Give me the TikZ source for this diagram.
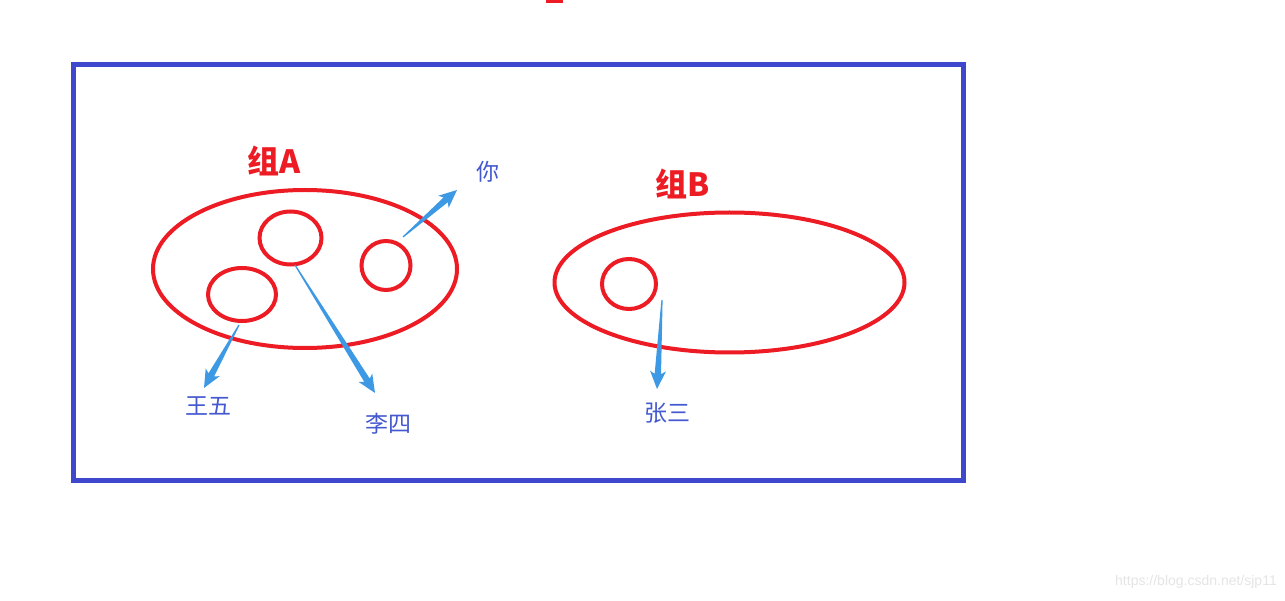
\documentclass[tikz,border=0pt]{standalone}
\usepackage{fontspec}
\usetikzlibrary{calc,shapes.geometric}
\newfontfamily\cjk{Noto Sans CJK SC}
\newfontfamily\wmfont{Liberation Sans}
\definecolor{gred}{HTML}{ED1C24}
\definecolor{frameblue}{HTML}{3F48CC}
\definecolor{txtblue}{HTML}{4458D0}
\definecolor{arrblue}{HTML}{3D99E4}
\newcommand\taperarrow[2]{%
  \coordinate (#1h) at ($(#2)!15pt!(#1)$);
  \coordinate (#1w) at ($(#2)!18pt!(#1)$);
  \fill[arrblue] ($(#1)!0.6pt!90:(#2)$) -- ($(#1h)!3.2pt!90:(#2)$) -- ($(#1w)!8pt!90:(#2)$) -- (#2)
     -- ($(#1w)!8pt!-90:(#2)$) -- ($(#1h)!3.2pt!-90:(#2)$) -- ($(#1)!0.6pt!-90:(#2)$) -- cycle;}
\tikzset{
  ring/.style={ellipse, draw=gred, line width=4pt, inner sep=0pt},
  grouplabel/.style={text=gred, font=\cjk\bfseries\fontsize{32}{34}\selectfont, inner sep=0pt},
  member/.style={text=txtblue, font=\cjk\fontsize{23}{25}\selectfont, inner sep=0pt},
  frame/.style={draw=frameblue, line width=5pt}
}
\begin{document}
\begin{tikzpicture}[x=1pt,y=-1pt]
\useasboundingbox (0,0) rectangle (1285,601);
\fill[white] (0,0) rectangle (1285,601);
% top red mark
\fill[gred] (546,0) rectangle (563,3);
% frame
\node[frame, minimum width=890, minimum height=416, inner sep=0pt] (box) at (518.5,272.5) {};
% group A
\node[ring, minimum width=304, minimum height=158] (gA) at (305,269) {};
\node[ring, minimum width=62, minimum height=53] (c1) at (290.5,238) {};
\node[ring, minimum width=68, minimum height=53] (c2) at (242,294.5) {};
\node[ring, minimum width=49, minimum height=49] (c3) at (386,265.5) {};
% group B
\node[ring, minimum width=350, minimum height=140] (gB) at (729.5,282.5) {};
\node[ring, minimum width=54, minimum height=50] (c4) at (629,284) {};
% labels
\node[grouplabel] (lA) at (274,161) {组A};
\node[grouplabel] (lB) at (683,184) {组B};
\node[member] (ni) at (488,172) {你};
\node[member] (ww) at (208,406) {王五};
\node[member] (ls) at (388,424) {李四};
\node[member] (zs) at (667,413) {张三};
% arrows
\coordinate (s1) at (403,237); \coordinate (t1) at (457,190);
\coordinate (s2) at (295,265); \coordinate (t2) at (375,393);
\coordinate (s3) at (239,325); \coordinate (t3) at (204,388);
\coordinate (s4) at (662,300); \coordinate (t4) at (657,389);
\taperarrow{s1}{t1}
\taperarrow{s2}{t2}
\taperarrow{s3}{t3}
\taperarrow{s4}{t4}
% watermark
\node[text=black!10, font=\wmfont\fontsize{14}{16}\selectfont, inner sep=0pt, anchor=east] (wm) at (1277,582) {https://blog.csdn.net/sjp11};
\end{tikzpicture}
\end{document}
